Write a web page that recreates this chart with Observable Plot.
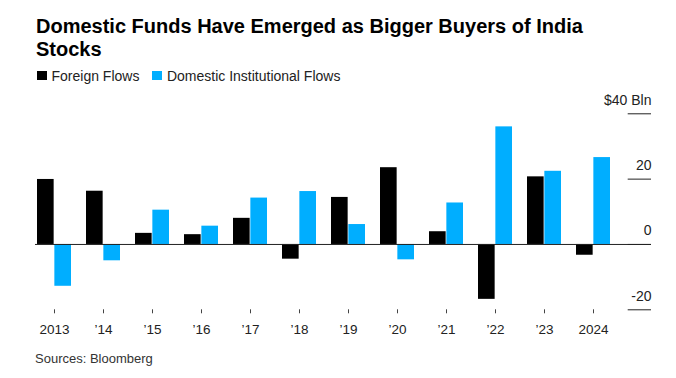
<!DOCTYPE html>
<html><head><meta charset="utf-8">
<script src="https://cdn.jsdelivr.net/npm/d3@7"></script>
<script src="https://cdn.jsdelivr.net/npm/@observablehq/plot@0.6"></script>
<style>
body{margin:0;background:#fff;width:676px;height:378px;position:relative;overflow:hidden;font-family:"Liberation Sans",Arial,sans-serif;}
#title{position:absolute;left:36px;top:14.9px;width:580px;font-weight:bold;font-size:20px;line-height:23.3px;color:#000;}
#legend{position:absolute;left:37px;top:67.6px;font-size:14px;line-height:16px;color:#222;display:flex;align-items:center;white-space:nowrap}
.sw{display:inline-block;width:9.5px;height:9.5px;margin-right:5px}
.item{display:flex;align-items:center;margin-right:13px}
#chart{position:absolute;left:0;top:88px}
#source{position:absolute;left:35px;top:351.3px;font-size:13px;line-height:15px;color:#333}
</style></head>
<body>
<div id="title">Domestic Funds Have Emerged as Bigger Buyers of India Stocks</div>
<div id="legend">
  <span class="item"><span class="sw" style="background:#000"></span>Foreign Flows</span>
  <span class="item"><span class="sw" style="background:#00aeff"></span>Domestic Institutional Flows</span>
</div>
<div id="chart"></div>
<div id="source">Sources: Bloomberg</div>
<script>
const years = [2013, 2014, 2015, 2016, 2017, 2018, 2019, 2020, 2021, 2022, 2023, 2024];
const foreignFlows = [19.9, 16.3, 3.4, 3.0, 8.0, -4.5, 14.4, 23.5, 3.9, -16.8, 20.7, -3.3];
const domesticFlows = [-12.8, -5.0, 10.5, 5.6, 14.2, 16.2, 6.1, -4.7, 12.7, 36.0, 22.4, 26.6];
const xLabels = ["2013", "’14", "’15", "’16", "’17", "’18", "’19", "’20", "’21", "’22", "’23", "2024"];
const yTicks = [-20, 0, 20, 40];
const yLabels = ["-20", "0", "20", "$40 Bln"];

const rows = years.map((year, i) => ({year, foreign: foreignFlows[i], domestic: domesticFlows[i]}));

const chart = Plot.plot({
  width: 676,
  height: 256,
  marginLeft: 35,
  marginRight: 25,
  marginTop: 25.3,
  marginBottom: 34.7,
  style: {fontFamily: "'Liberation Sans', Arial, sans-serif", fontSize: "14px", color: "#222", background: "transparent"},
  x: {type: "band", domain: years, range: [35, 612.7], paddingInner: 0.2975, paddingOuter: 0, label: null},
  y: {domain: [-20, 40], axis: null, label: null},
  marks: [
    Plot.barY(rows, {x: "year", y: "foreign", fill: "#000", insetRight: 17.35}),
    Plot.barY(rows, {x: "year", y: "domestic", fill: "#00aeff", insetLeft: 17.35}),
    Plot.ruleY([0], {stroke: "#222"}),
    Plot.tickY(yTicks, {y: d => d, stroke: "#222", insetLeft: 592.7}),
    Plot.text(yTicks, {y: d => d, text: d => yLabels[yTicks.indexOf(d)], frameAnchor: "right", textAnchor: "end", dy: -13.5, fill: "#222", fontSize: 14}),
    Plot.axisX({ticks: years, tickSize: 4, tickPadding: 11, tickFormat: d => xLabels[years.indexOf(d)], stroke: "#444", fill: "#222", fontSize: 13.5})
  ]
});
document.getElementById("chart").append(chart);
</script>
</body></html>
